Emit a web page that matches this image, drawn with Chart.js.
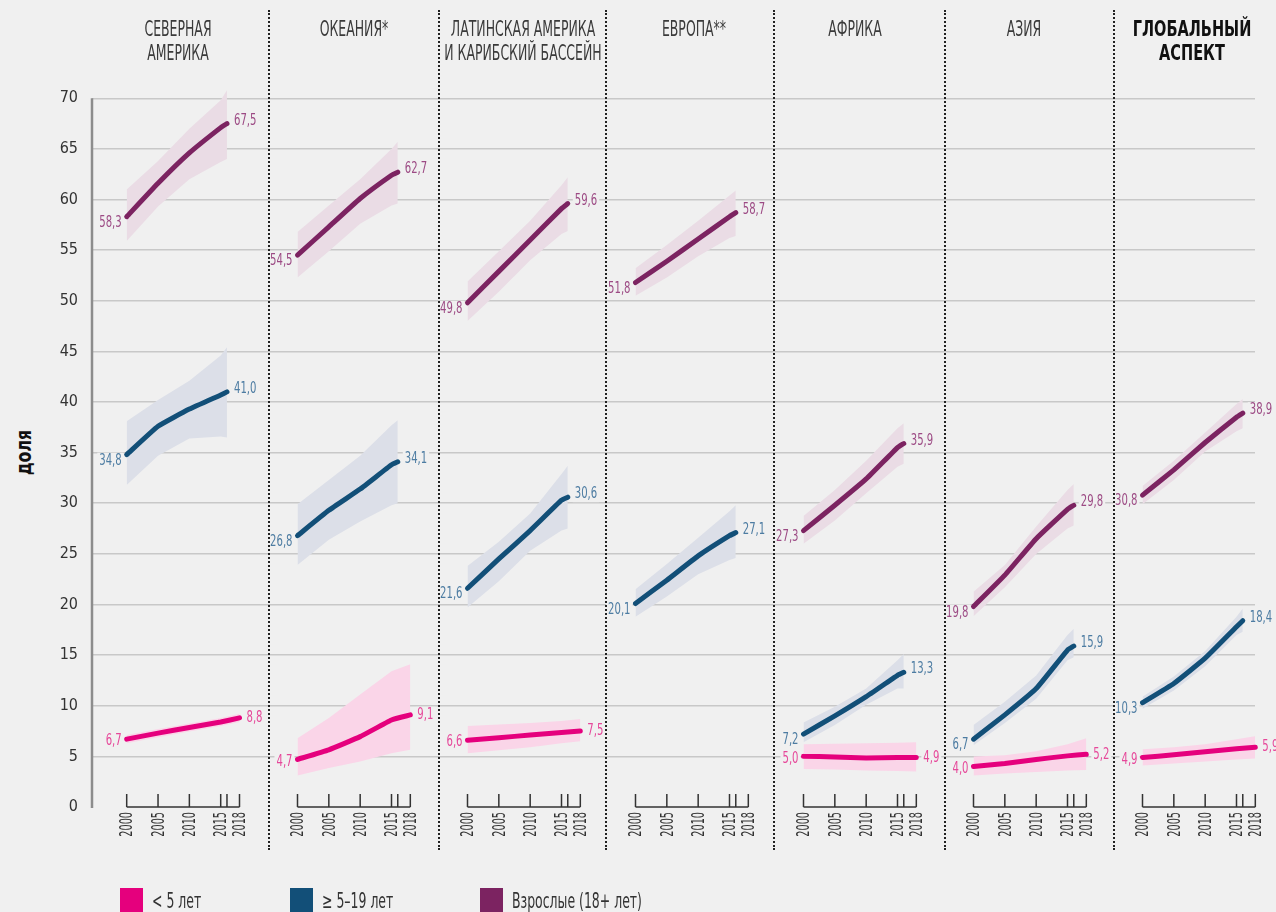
<!DOCTYPE html>
<html>
<head>
<meta charset="utf-8">
<title>Доля по регионам</title>
<script src="https://cdn.jsdelivr.net/npm/chart.js"></script>
<style>
  body { margin: 0; background: #f0f0f0; font-family: "DejaVu Sans Condensed", "Liberation Sans Narrow", sans-serif; }
  #wrap { position: relative; width: 1276px; height: 912px; overflow: hidden; background: #f0f0f0; }
  #wrap canvas { position: absolute; top: 0; }
  .sep { position: absolute; top: 10px; height: 840px; border-left: 2px dotted #222; z-index: 5; }
  .title { position: absolute; top: 18px; width: 300px; text-align: center; font-size: 21px; line-height: 23.5px;
           color: #3a3a3a; transform: scaleX(0.66); white-space: nowrap; z-index: 6; }
  .title.bold { font-weight: bold; color: #111; transform: scaleX(0.77); }
  #ytitle { position: absolute; left: -27px; top: 440px; width: 100px; text-align: center; font-size: 22px;
            font-weight: bold; color: #111; transform: rotate(-90deg) scaleX(0.8); }
  .legbox { position: absolute; top: 888px; width: 23px; height: 30px; }
  .legtext { position: absolute; top: 891px; font-size: 21px; line-height: 21px; color: #333;
             transform: scaleX(0.66); transform-origin: left center; white-space: nowrap; }
</style>
</head>
<body>
<div id="wrap">
  <div id="ytitle">доля</div>
</div>
<script>
// --- data -------------------------------------------------------------
const panelTitles = [
  ['СЕВЕРНАЯ', 'АМЕРИКА'],
  ['ОКЕАНИЯ*'],
  ['ЛАТИНСКАЯ АМЕРИКА', 'И КАРИБСКИЙ БАССЕЙН'],
  ['ЕВРОПА**'],
  ['АФРИКА'],
  ['АЗИЯ'],
  ['ГЛОБАЛЬНЫЙ', 'АСПЕКТ']
];
const seriesNames = ['< 5 лет', '≥ 5–19 лет', 'Взрослые (18+ лет)'];

const yearsMain = [2000, 2005, 2010, 2015, 2016];
const yearsUnder5 = [2000, 2005, 2010, 2015, 2018];
const tickYears = [2000, 2005, 2010, 2015, 2016, 2018];
const yTickValues = [0, 5, 10, 15, 20, 25, 30, 35, 40, 45, 50, 55, 60, 65, 70];

// < 5 лет (null = нет данных)
const under5Mid = [
  [6.7, 7.3, 7.85, 8.4, 8.8],
  [4.7, 5.65, 6.95, 8.6, 9.1],
  [6.6, 6.85, 7.1, 7.35, 7.5],
  null,
  [5.0, 4.95, 4.85, 4.9, 4.9],
  [4.0, 4.3, 4.7, 5.05, 5.2],
  [4.9, 5.15, 5.45, 5.75, 5.9]
];
const under5Low = [
  [6.3, 6.9, 7.45, 8.0, 8.4],
  [3.1, 3.85, 4.5, 5.3, 5.65],
  [5.3, 5.6, 5.9, 6.3, 6.5],
  null,
  [3.75, 3.7, 3.6, 3.55, 3.5],
  [3.1, 3.3, 3.45, 3.6, 3.65],
  [4.1, 4.3, 4.5, 4.7, 4.8]
];
const under5High = [
  [7.1, 7.7, 8.25, 8.8, 9.2],
  [6.8, 8.8, 11.1, 13.4, 14.1],
  [8.0, 8.15, 8.3, 8.5, 8.7],
  null,
  [6.2, 6.25, 6.3, 6.35, 6.4],
  [5.0, 5.1, 5.5, 6.2, 6.8],
  [5.7, 5.9, 6.2, 6.7, 7.0]
];

// ≥ 5–19 лет
const youthMid = [
  [34.8, 37.6, 39.3, 40.7, 41.0],
  [26.8, 29.3, 31.4, 33.8, 34.1],
  [21.6, 24.5, 27.3, 30.3, 30.6],
  [20.1, 22.4, 24.8, 26.8, 27.1],
  [7.2, 9.0, 10.9, 13.0, 13.3],
  [6.7, 9.1, 11.7, 15.5, 15.9],
  [10.3, 12.2, 14.7, 17.8, 18.4]
];
const youthLow = [
  [31.8, 34.7, 36.4, 36.6, 36.5],
  [23.9, 26.4, 28.2, 29.8, 30.0],
  [19.7, 22.3, 25.3, 27.3, 27.5],
  [18.8, 20.8, 23.0, 24.4, 24.6],
  [6.4, 8.1, 10.1, 11.7, 11.7],
  [6.1, 8.3, 10.7, 14.5, 14.8],
  [9.7, 11.5, 13.9, 17.0, 17.3]
];
const youthHigh = [
  [38.1, 40.2, 42.1, 44.6, 45.4],
  [29.9, 32.3, 34.7, 37.7, 38.2],
  [23.8, 26.2, 29.0, 32.9, 33.7],
  [21.5, 24.0, 26.6, 29.2, 29.8],
  [8.35, 9.9, 11.7, 14.5, 15.1],
  [8.1, 10.4, 13.0, 17.0, 17.6],
  [10.9, 12.9, 15.4, 18.8, 19.6]
];

// Взрослые (18+ лет)
const adultMid = [
  [58.3, 61.6, 64.6, 67.1, 67.5],
  [54.5, 57.3, 60.1, 62.4, 62.7],
  [49.8, 52.9, 56.0, 59.1, 59.6],
  [51.8, 53.9, 56.1, 58.3, 58.7],
  [27.3, 29.8, 32.4, 35.5, 35.9],
  [19.8, 22.9, 26.5, 29.4, 29.8],
  [30.8, 33.3, 36.0, 38.5, 38.9]
];
const adultLow = [
  [55.9, 59.3, 62.0, 63.7, 64.0],
  [52.3, 54.9, 57.6, 59.4, 59.6],
  [48.0, 50.9, 54.0, 56.6, 56.9],
  [50.5, 52.3, 54.4, 56.2, 56.4],
  [26.0, 28.3, 31.0, 33.6, 33.9],
  [18.85, 21.7, 25.0, 27.5, 27.8],
  [29.9, 32.3, 35.1, 37.1, 37.4]
];
const adultHigh = [
  [61.0, 63.8, 67.0, 69.8, 70.8],
  [56.8, 59.4, 62.0, 65.0, 65.7],
  [51.9, 54.9, 57.9, 61.4, 62.2],
  [53.2, 55.5, 57.9, 60.4, 60.9],
  [28.75, 31.3, 34.2, 37.4, 37.9],
  [21.25, 23.9, 27.7, 31.3, 31.9],
  [31.7, 34.2, 37.0, 39.8, 40.3]
];

// --- layout & styles ---------------------------------------------------
const panelLeft = [0, 269, 439, 607, 775, 945, 1114];
const panelRight = [269, 439, 607, 775, 945, 1114, 1255];
const separators = [269, 439, 606, 774, 945, 1114];
const titleCenter = [178, 354, 523, 694, 855, 1024, 1192];
const pxPerYear = 6.267;
const bleed = 45; // extra canvas room so value labels are not cut

const styles = [
  { line: '#e5007d', band: '#fad5e8', text: '#e6489a', startDy: 2, endDy: 0 },
  { line: '#124f78', band: '#dcdfe8', text: '#4d7ca2', startDy: 6, endDy: -3 },
  { line: '#7c2361', band: '#eadce5', text: '#9c4a84', startDy: 6, endDy: -3 }
];
const legendX = [120, 290, 480];

const fontFamily = '"DejaVu Sans Condensed", "Liberation Sans Narrow", sans-serif';
Chart.defaults.font.family = fontFamily;
Chart.defaults.color = '#333';

const fmt = v => v.toFixed(1).replace('.', ',');

// short x axis with upward ticks, rotated year labels, and the y axis line
const axisDeco = {
  id: 'axisDeco',
  afterDatasetsDraw(chart, args, opts) {
    const { ctx, scales: { x, y } } = chart;
    const y0 = y.getPixelForValue(0);
    ctx.save();
    ctx.strokeStyle = '#333';
    ctx.lineWidth = 1.5;
    ctx.beginPath();
    ctx.moveTo(x.getPixelForValue(tickYears[0]), y0);
    ctx.lineTo(x.getPixelForValue(tickYears[tickYears.length - 1]), y0);
    x.ticks.forEach(t => {
      const px = x.getPixelForValue(t.value);
      ctx.moveTo(px, y0);
      ctx.lineTo(px, y0 - 13);
    });
    ctx.stroke();

    ctx.fillStyle = '#333';
    ctx.font = '18px ' + fontFamily;
    ctx.textAlign = 'right';
    ctx.textBaseline = 'middle';
    x.ticks.forEach(t => {
      if (t.value === 2016) return;
      ctx.save();
      ctx.translate(x.getPixelForValue(t.value) + 1, y0 + 5);
      ctx.rotate(-Math.PI / 2);
      ctx.scale(0.6, 1);
      ctx.fillText(String(t.value), 0, 0);
      ctx.restore();
    });

    if (opts.yLine) {
      ctx.strokeStyle = '#8c8c8c';
      ctx.lineWidth = 2.5;
      ctx.beginPath();
      ctx.moveTo(chart.chartArea.left, y.getPixelForValue(70));
      ctx.lineTo(chart.chartArea.left, y0 + 1);
      ctx.stroke();
    }
    ctx.restore();
  }
};

const valueLabels = {
  id: 'valueLabels',
  afterDatasetsDraw(chart) {
    const ctx = chart.ctx;
    const sx = 0.7;
    ctx.save();
    ctx.font = '16px ' + fontFamily;
    ctx.textBaseline = 'middle';
    const put = (txt, x, y, align, color) => {
      const w = ctx.measureText(txt).width * sx;
      const left = align === 'right' ? x - w : x;
      ctx.fillStyle = '#f0f0f0';
      ctx.fillRect(left - 2, y - 8, w + 4, 16);
      ctx.save();
      ctx.translate(left, y);
      ctx.scale(sx, 1);
      ctx.textAlign = 'left';
      ctx.fillStyle = color;
      ctx.fillText(txt, 0, 0);
      ctx.restore();
    };
    chart.data.datasets.forEach((ds, i) => {
      if (!ds.valueColor) return;
      const pts = chart.getDatasetMeta(i).data;
      const first = pts[0], last = pts[pts.length - 1];
      put(fmt(ds.data[0].y), first.x - 5, first.y + ds.startDy, 'right', ds.valueColor);
      put(fmt(ds.data[ds.data.length - 1].y), last.x + 7, last.y + ds.endDy, 'left', ds.valueColor);
    });
    ctx.restore();
  }
};

function seriesSets(years, mid, lo, hi, st) {
  const pts = arr => arr.map((v, i) => ({ x: years[i], y: v }));
  return [
    { data: pts(lo), borderWidth: 0, pointRadius: 0, fill: false, order: 3 },
    { data: pts(hi), borderWidth: 0, pointRadius: 0, fill: '-1', backgroundColor: st.band, order: 3 },
    { data: pts(mid), borderColor: st.line, borderWidth: 5, borderCapStyle: 'round', borderJoinStyle: 'round',
      pointRadius: 0, tension: 0.12, fill: false, order: 1, clip: false,
      valueColor: st.text, startDy: st.startDy, endDy: st.endDy }
  ];
}

const wrap = document.getElementById('wrap');

panelTitles.forEach((t, p) => {
  const areaLeft = p === 0 ? 92 : panelLeft[p];
  const areaRight = panelRight[p];
  const firstOffset = p === 0 ? 34.7 : 28.5;
  const xMin = 2000 - firstOffset / pxPerYear;
  const xMax = xMin + (areaRight - areaLeft) / pxPerYear;

  const canvasLeft = p === 0 ? 0 : panelLeft[p] - bleed;
  const canvasRight = Math.min(1276, panelRight[p] + bleed);

  const canvas = document.createElement('canvas');
  canvas.width = canvasRight - canvasLeft;
  canvas.height = 912;
  canvas.style.left = canvasLeft + 'px';
  wrap.appendChild(canvas);

  let datasets = [];
  if (under5Mid[p]) datasets = datasets.concat(seriesSets(yearsUnder5, under5Mid[p], under5Low[p], under5High[p], styles[0]));
  datasets = datasets.concat(seriesSets(yearsMain, youthMid[p], youthLow[p], youthHigh[p], styles[1]));
  datasets = datasets.concat(seriesSets(yearsMain, adultMid[p], adultLow[p], adultHigh[p], styles[2]));

  new Chart(canvas, {
    type: 'line',
    data: { datasets },
    options: {
      responsive: false,
      animation: false,
      devicePixelRatio: 1,
      layout: { padding: { top: 78, left: p === 0 ? 0 : bleed, right: canvasRight - areaRight, bottom: 0 } },
      plugins: { legend: { display: false }, tooltip: { enabled: false }, axisDeco: { yLine: p === 0 } },
      scales: {
        x: {
          type: 'linear', min: xMin, max: xMax,
          afterBuildTicks: s => { s.ticks = tickYears.map(v => ({ value: v })); },
          afterFit: s => { s.height = 105; },
          grid: { display: false, drawTicks: false },
          border: { display: false },
          ticks: { display: false }
        },
        y: {
          min: 0, max: 72,
          afterBuildTicks: s => { s.ticks = yTickValues.map(v => ({ value: v })); },
          afterFit: s => { s.width = p === 0 ? 92 : 0; },
          grid: { color: c => (c.tick && c.tick.value === 0 ? 'rgba(0,0,0,0)' : '#c8c8c8'), lineWidth: 1.5, drawTicks: false },
          border: { display: false },
          ticks: { display: p === 0, padding: 14, font: { size: 16 }, color: '#333' }
        }
      }
    },
    plugins: [axisDeco, valueLabels]
  });

  const title = document.createElement('div');
  title.className = 'title' + (p === 6 ? ' bold' : '');
  title.style.left = (titleCenter[p] - 150) + 'px';
  title.innerHTML = t.join('<br>');
  wrap.appendChild(title);
});

separators.forEach(x => {
  const d = document.createElement('div');
  d.className = 'sep';
  d.style.left = (x - 1) + 'px';
  wrap.appendChild(d);
});

seriesNames.forEach((name, i) => {
  const box = document.createElement('div');
  box.className = 'legbox';
  box.style.left = legendX[i] + 'px';
  box.style.background = styles[i].line;
  wrap.appendChild(box);
  const txt = document.createElement('div');
  txt.className = 'legtext';
  txt.style.left = (legendX[i] + 32) + 'px';
  txt.textContent = name;
  wrap.appendChild(txt);
});
</script>
</body>
</html>
